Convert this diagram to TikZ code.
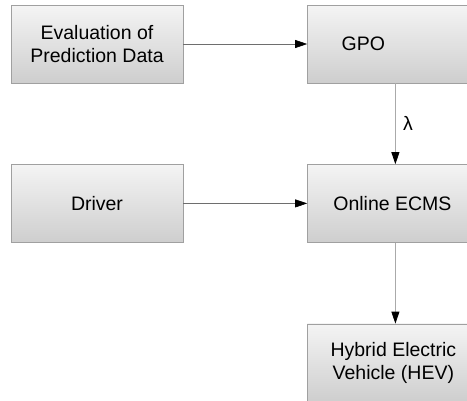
\documentclass[tikz,border=0pt]{standalone}
\usepackage{fontspec}
\setmainfont{Liberation Sans}
\usepackage{xcolor}
\usetikzlibrary{positioning,arrows.meta,calc}

\definecolor{boxtop}{RGB}{244,244,244}
\definecolor{boxbottom}{RGB}{206,206,206}
\definecolor{boxline}{RGB}{160,160,160}
\definecolor{flowline}{RGB}{110,110,110}
\definecolor{vline}{RGB}{170,170,170}

\tikzset{
  blockfont/.style={font=\fontsize{19.5}{23.5}\selectfont},
  block/.style={draw=boxline, top color=boxtop, bottom color=boxbottom, minimum height=78pt, align=center, blockfont, inner sep=0pt},
  leftblock/.style={block, minimum width=172pt},
  rightblock/.style={block, minimum width=176pt},
  flow/.style={draw=flowline, line width=0.6pt, -{Triangle[length=12pt,width=8pt,fill=black,color=black]}},
  vflow/.style={draw=vline, line width=0.8pt, -{Triangle[length=12pt,width=8pt,fill=black,color=black]}}
}

\begin{document}
\begin{tikzpicture}[x=1pt,y=1pt]
        \useasboundingbox (0,0) rectangle (467,-400);
        \clip (0,0) rectangle (467,-400);

        % Boxes
        \node[leftblock] (eval) at (97,-44) {Evaluation of\\Prediction Data};
        \node[rightblock, right=124pt of eval, label={[blockfont, xshift=-32pt]center:GPO}] (gpo) {};
        \node[rightblock, below=81pt of gpo] (ecms) {\hspace*{-6pt}Online ECMS};
        \node[leftblock, left=124pt of ecms] (driver) {Driver};
        \node[rightblock, below=81pt of ecms] (hev) {\hspace*{-4pt}Hybrid Electric\\\hspace*{-4pt}Vehicle (HEV)};

        % Arrows
        \draw[flow] (eval) -- (gpo);
        \draw[flow] (driver) -- (ecms);
        \draw[vflow] (gpo) -- node[right=4pt, blockfont] (lambda) {λ} (ecms);
        \draw[vflow] (ecms) -- (hev);
    \end{tikzpicture}
\end{document}
